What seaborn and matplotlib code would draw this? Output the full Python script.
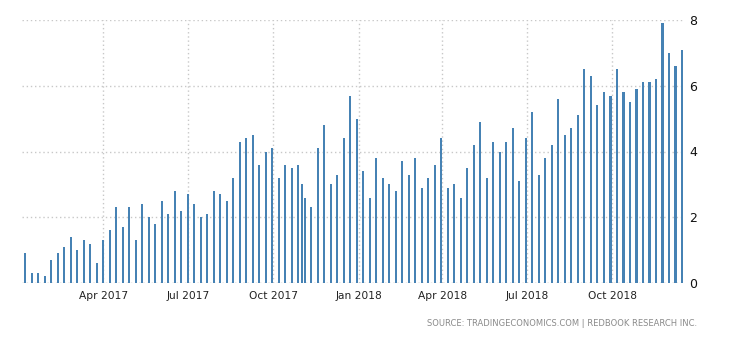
import matplotlib
matplotlib.use("Agg")
import matplotlib.pyplot as plt
import matplotlib.dates as mdates
import numpy as np
import pandas as pd
import seaborn as sns

# ---- data ----
weekly_dates = pd.date_range("2017-01-07", "2018-12-15", freq="7D")
extra_date = pd.Timestamp("2017-11-01")
extra_value = 3.0

weekly_values = [
    0.9, 0.3, 0.3, 0.2, 0.7, 0.9, 1.1, 1.4, 1.0, 1.3, 1.2, 0.6, 1.3, 1.6, 2.3, 1.7,
    2.3, 1.3, 2.4, 2.0, 1.8, 2.5, 2.1, 2.8, 2.2, 2.7, 2.4,
    2.0, 2.1, 2.8, 2.7, 2.5, 3.2, 4.3, 4.4, 4.5, 3.6, 4.0, 4.1, 3.2, 3.6, 3.5, 3.6,
    2.6,
    2.3, 4.1, 4.8, 3.0, 3.3, 4.4, 5.7, 5.0, 3.4,
    2.6, 3.8, 3.2, 3.0, 2.8, 3.7, 3.3, 3.8, 2.9, 3.2, 3.6, 4.4, 2.9, 3.0, 2.6, 3.5,
    4.2, 4.9, 3.2, 4.3, 4.0, 4.3, 4.7, 3.1, 4.4, 5.2,
    3.3, 3.8, 4.2, 5.6, 4.5, 4.7, 5.1, 6.5, 6.3, 5.4, 5.8, 5.7, 6.5, 5.8, 5.5, 5.9,
    6.1, 6.1, 6.2, 7.9, 7.0, 6.6, 7.1,
]

tick_dates = ["2017-04-01", "2017-07-01", "2017-10-01", "2018-01-01",
              "2018-04-01", "2018-07-01", "2018-10-01"]
tick_labels = ["Apr 2017", "Jul 2017", "Oct 2017", "Jan 2018",
               "Apr 2018", "Jul 2018", "Oct 2018"]
y_ticks = [0, 2, 4, 6, 8]
source_text = "SOURCE: TRADINGECONOMICS.COM | REDBOOK RESEARCH INC."

df = pd.DataFrame({"date": list(weekly_dates) + [extra_date],
                   "value": list(weekly_values) + [extra_value]})
df = df.sort_values("date").reset_index(drop=True)
df["x"] = mdates.date2num(df["date"])

# ---- plot ----
sns.set_style("white")
plt.rcParams["font.family"] = ["DejaVu Sans"]

fig = plt.figure(figsize=(7.3, 3.4), dpi=100)
ax = fig.add_axes([22 / 730, 1 - 283 / 340, (685 - 22) / 730, (283 - 20) / 340])

sns.barplot(data=df, x="x", y="value", native_scale=True, color="#4682b4",
            saturation=1, errorbar=None, linewidth=0, width=0.8, ax=ax)

ax.set_xlim(mdates.date2num(pd.Timestamp("2017-01-03 12:00")),
            mdates.date2num(pd.Timestamp("2018-12-18 08:00")))
ax.set_ylim(0, 8)
ax.set_xticks(mdates.date2num(pd.to_datetime(tick_dates)))
ax.set_xticklabels(tick_labels)
ax.set_yticks(y_ticks)
ax.set_yticklabels([str(v) for v in y_ticks])
ax.yaxis.tick_right()
ax.set_xlabel("")
ax.set_ylabel("")

for s in ax.spines.values():
    s.set_visible(False)

ax.set_axisbelow(True)
ax.grid(True, linestyle=(0, (1, 2)), color="#c8c8c8", linewidth=1)
ax.axhline(0, color="#c8c8c8", linewidth=1, linestyle=(0, (1, 2)), zorder=0)

ax.tick_params(axis="x", direction="out", length=4, width=1, color="#bbbbbb",
               labelsize=7.7, labelcolor="#222222", pad=2)
ax.tick_params(axis="y", length=0, labelsize=9, labelcolor="#111111", pad=3)

fig.text(697 / 730, 1 - 324 / 340, source_text, ha="right", va="center",
         fontsize=6.0, color="#8a8a8a")

fig.savefig("out.png", dpi=100)
